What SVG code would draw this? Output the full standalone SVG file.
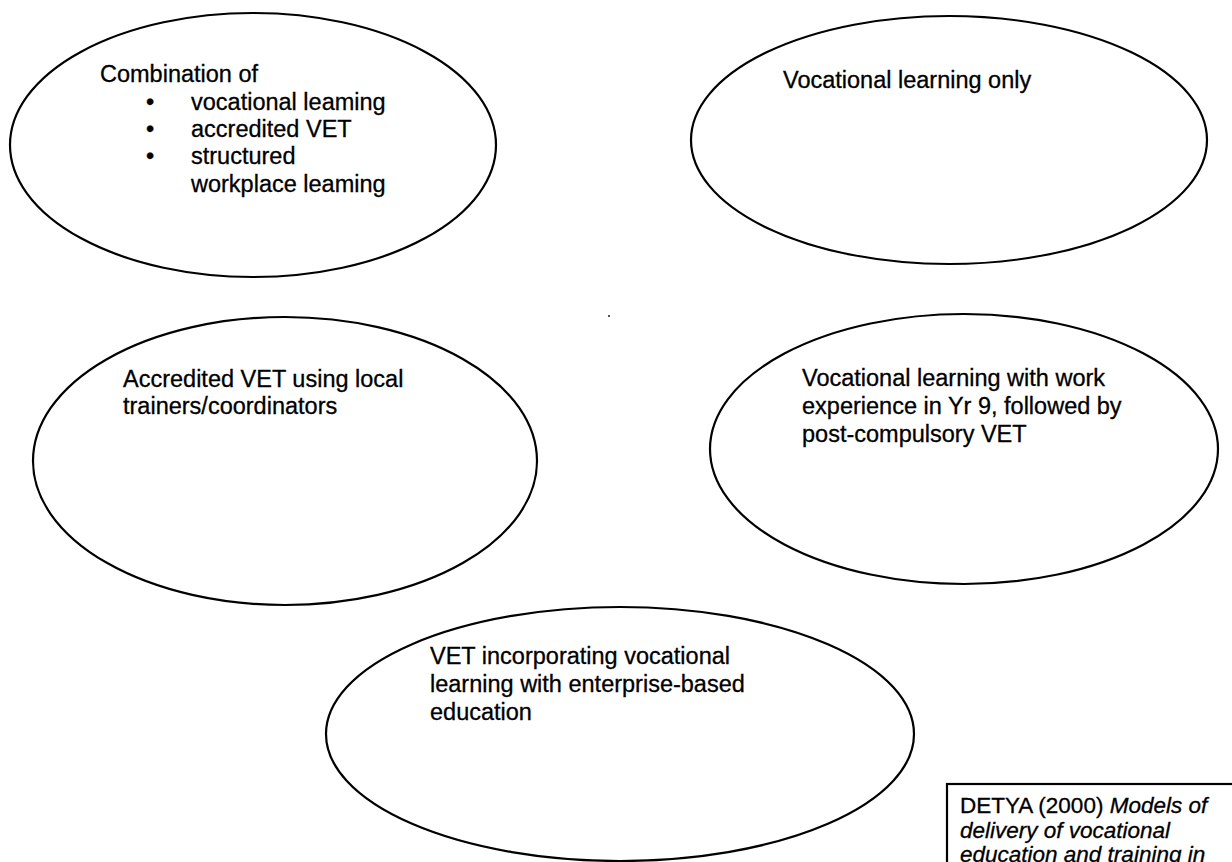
<svg xmlns="http://www.w3.org/2000/svg" width="1232" height="862" viewBox="0 0 1232 862">
<style>
.shape{fill:#fff;stroke:#000;stroke-width:2.2}
.t{font-family:"Liberation Sans",Arial,sans-serif;font-size:23.5px;fill:#000;stroke:#000;stroke-width:0.3}
.c{font-family:"Liberation Sans",Arial,sans-serif;font-size:22.5px;fill:#000;stroke:#000;stroke-width:0.3}
.i{font-style:italic}
</style>
<rect width="1232" height="862" fill="#fff"/>
<g id="connectors"></g>
<g id="node-combination">
<ellipse class="shape" cx="253" cy="145" rx="243" ry="132"/>
<text class="t" x="100" y="82">Combination of</text>
<text class="t" x="150" y="110" text-anchor="middle">•</text>
<text class="t" x="191" y="110">vocational leaming</text>
<text class="t" x="150" y="137" text-anchor="middle">•</text>
<text class="t" x="191" y="137">accredited VET</text>
<text class="t" x="150" y="164" text-anchor="middle">•</text>
<text class="t" x="191" y="164">structured</text>
<text class="t" x="191" y="192">workplace leaming</text>
</g>
<g id="node-vocational-only">
<ellipse class="shape" cx="949" cy="140" rx="258" ry="124"/>
<text class="t" x="783" y="88">Vocational learning only</text>
</g>
<g id="node-accredited-local">
<ellipse class="shape" cx="285" cy="461" rx="252" ry="144"/>
<text class="t" x="123" y="387">Accredited VET using local</text>
<text class="t" x="123" y="414">trainers/coordinators</text>
</g>
<g id="node-work-experience">
<ellipse class="shape" cx="964" cy="449" rx="254" ry="135"/>
<text class="t" x="802" y="386">Vocational learning with work</text>
<text class="t" x="802" y="414">experience in Yr 9, followed by</text>
<text class="t" x="802" y="442">post-compulsory VET</text>
</g>
<g id="node-enterprise">
<ellipse class="shape" cx="620" cy="734" rx="294" ry="127"/>
<text class="t" x="430" y="664">VET incorporating vocational</text>
<text class="t" x="430" y="692">learning with enterprise-based</text>
<text class="t" x="430" y="720">education</text>
</g>
<g id="node-citation">
<rect class="shape" x="947" y="784" width="300" height="100"/>
<text class="c" x="960" y="813">DETYA (2000)  <tspan class="i">Models of</tspan></text>
<text class="c i" x="960" y="838">delivery of vocational</text>
<text class="c i" x="960" y="862">education and training in</text>
</g>
<rect x="608" y="315" width="2" height="2" fill="#555"/>
</svg>
